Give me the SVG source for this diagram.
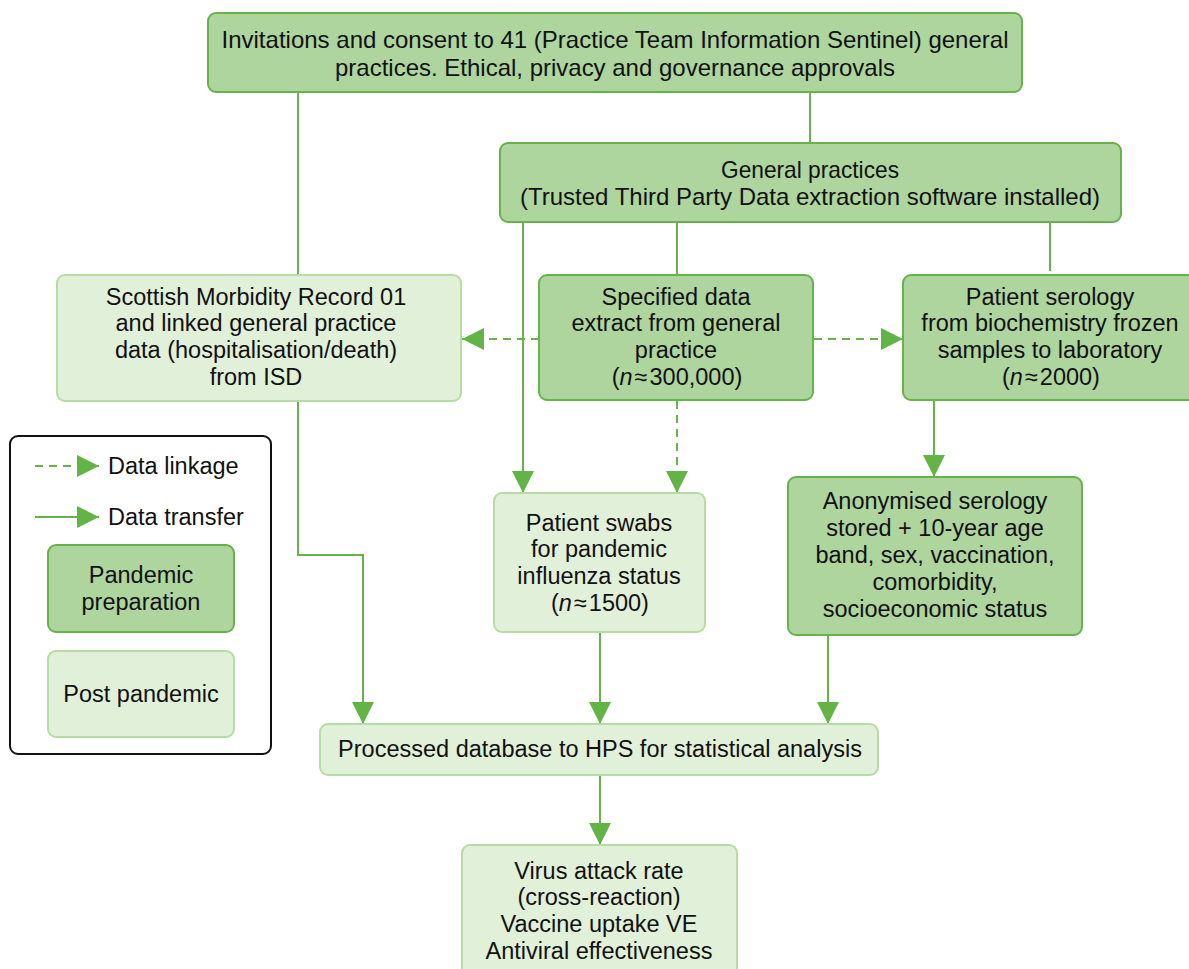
<svg xmlns="http://www.w3.org/2000/svg" width="1189" height="969" viewBox="0 0 1189 969">
<defs>
<style>
.dark{fill:#aed59e;stroke:#66b34b;stroke-width:2}
.light{fill:#e1f0d8;stroke:#b6dba5;stroke-width:2}
text{font-family:"Liberation Sans",Arial,sans-serif;font-size:23.5px;fill:#111;text-anchor:middle}
.c{stroke:#66b34b;stroke-width:2;fill:none}
.d{stroke:#66b34b;stroke-width:2;fill:none;stroke-dasharray:8 6}
</style>
<marker id="ah" markerUnits="userSpaceOnUse" markerWidth="22" markerHeight="22" refX="22" refY="11" orient="auto">
<path d="M0,0 L22,11 L0,22 Z" fill="#62b446"/>
</marker>
</defs>
<rect width="1189" height="969" fill="#fff"/>

<g id="connectors">
<line class="c" x1="810" y1="92" x2="810" y2="143"/>
<line class="c" x1="298" y1="92" x2="298" y2="275"/>
<line class="c" x1="677" y1="222" x2="677" y2="275"/>
<line class="c" x1="1050" y1="222" x2="1050" y2="271"/>
<line class="c" x1="523" y1="222" x2="523" y2="493" marker-end="url(#ah)"/>
<line class="d" x1="539" y1="339" x2="462" y2="339" marker-end="url(#ah)"/>
<line class="d" x1="814" y1="339" x2="903" y2="339" marker-end="url(#ah)"/>
<line class="d" x1="677" y1="401" x2="677" y2="493" marker-end="url(#ah)"/>
<line class="c" x1="934" y1="401" x2="934" y2="477" marker-end="url(#ah)"/>
<polyline class="c" points="298,401 298,555 363,555 363,724" marker-end="url(#ah)"/>
<line class="c" x1="600" y1="632" x2="600" y2="724" marker-end="url(#ah)"/>
<line class="c" x1="828" y1="635" x2="828" y2="724" marker-end="url(#ah)"/>
<line class="c" x1="600" y1="775" x2="600" y2="845" marker-end="url(#ah)"/>
</g>

<g id="invitations">
<rect class="dark" x="208" y="13" width="814" height="79" rx="8"/>
<text x="615" y="48" textLength="787" lengthAdjust="spacingAndGlyphs" style="font-size:24px">Invitations and consent to 41 (Practice Team Information Sentinel) general</text>
<text x="615" y="76" textLength="560" lengthAdjust="spacingAndGlyphs" style="font-size:24px">practices. Ethical, privacy and governance approvals</text>
</g>

<g id="general-practices">
<rect class="dark" x="500" y="143" width="621" height="79" rx="8"/>
<text x="810" y="178" textLength="178" lengthAdjust="spacingAndGlyphs" style="font-size:24px">General practices</text>
<text x="810" y="205" textLength="580" lengthAdjust="spacingAndGlyphs" style="font-size:24px">(Trusted Third Party Data extraction software installed)</text>
</g>

<g id="smr">
<rect class="light" x="57" y="275" width="404" height="126" rx="8"/>
<text x="256" y="304.5">Scottish Morbidity Record 01</text>
<text x="256" y="331.2">and linked general practice</text>
<text x="256" y="357.9">data (hospitalisation/death)</text>
<text x="256" y="384.6">from ISD</text>
</g>

<g id="specified">
<rect class="dark" x="539" y="275" width="274" height="125" rx="8"/>
<text x="676" y="304.5">Specified data</text>
<text x="676" y="331.2">extract from general</text>
<text x="676" y="357.9">practice</text>
<text x="677" y="384.6">(<tspan font-style="italic">n</tspan><tspan dx="2">≈</tspan><tspan dx="2">300,000)</tspan></text>
</g>

<g id="serology">
<rect class="dark" x="903" y="275" width="296" height="125" rx="8"/>
<text x="1050" y="304.5">Patient serology</text>
<text x="1050" y="331.2">from biochemistry frozen</text>
<text x="1050" y="357.9">samples to laboratory</text>
<text x="1051" y="384.6">(<tspan font-style="italic">n</tspan><tspan dx="2">≈</tspan><tspan dx="2">2000)</tspan></text>
</g>

<g id="swabs">
<rect class="light" x="494" y="493" width="211" height="139" rx="8"/>
<text x="599" y="530.5">Patient swabs</text>
<text x="599" y="557.2">for pandemic</text>
<text x="599" y="583.9">influenza status</text>
<text x="600" y="610.6">(<tspan font-style="italic">n</tspan><tspan dx="2">≈</tspan><tspan dx="2">1500)</tspan></text>
</g>

<g id="anonymised">
<rect class="dark" x="788" y="477" width="294" height="158" rx="8"/>
<text x="935" y="508.5">Anonymised serology</text>
<text x="935" y="535.5">stored + 10-year age</text>
<text x="935" y="562.5">band, sex, vaccination,</text>
<text x="935" y="589.5">comorbidity,</text>
<text x="935" y="616.5">socioeconomic status</text>
</g>

<g id="processed">
<rect class="light" x="320" y="724" width="558" height="51" rx="8"/>
<text x="600" y="757">Processed database to HPS for statistical analysis</text>
</g>

<g id="outcomes">
<rect class="light" x="462" y="845" width="275" height="140" rx="8"/>
<text x="599" y="878.5">Virus attack rate</text>
<text x="599" y="905.2">(cross-reaction)</text>
<text x="599" y="931.9">Vaccine uptake VE</text>
<text x="599" y="958.6">Antiviral effectiveness</text>
</g>

<g id="legend">
<rect x="10" y="436" width="261" height="318" rx="8" fill="#fff" stroke="#111" stroke-width="2"/>
<line class="d" x1="35" y1="466" x2="99" y2="466" marker-end="url(#ah)"/>
<text x="108" y="474" style="text-anchor:start">Data linkage</text>
<line class="c" x1="35" y1="517" x2="99" y2="517" marker-end="url(#ah)"/>
<text x="108" y="525" style="text-anchor:start">Data transfer</text>
<rect class="dark" x="48" y="545" width="186" height="87" rx="8"/>
<text x="141" y="583">Pandemic</text>
<text x="141" y="610">preparation</text>
<rect class="light" x="48" y="651" width="186" height="86" rx="8"/>
<text x="141" y="702">Post pandemic</text>
</g>
</svg>
